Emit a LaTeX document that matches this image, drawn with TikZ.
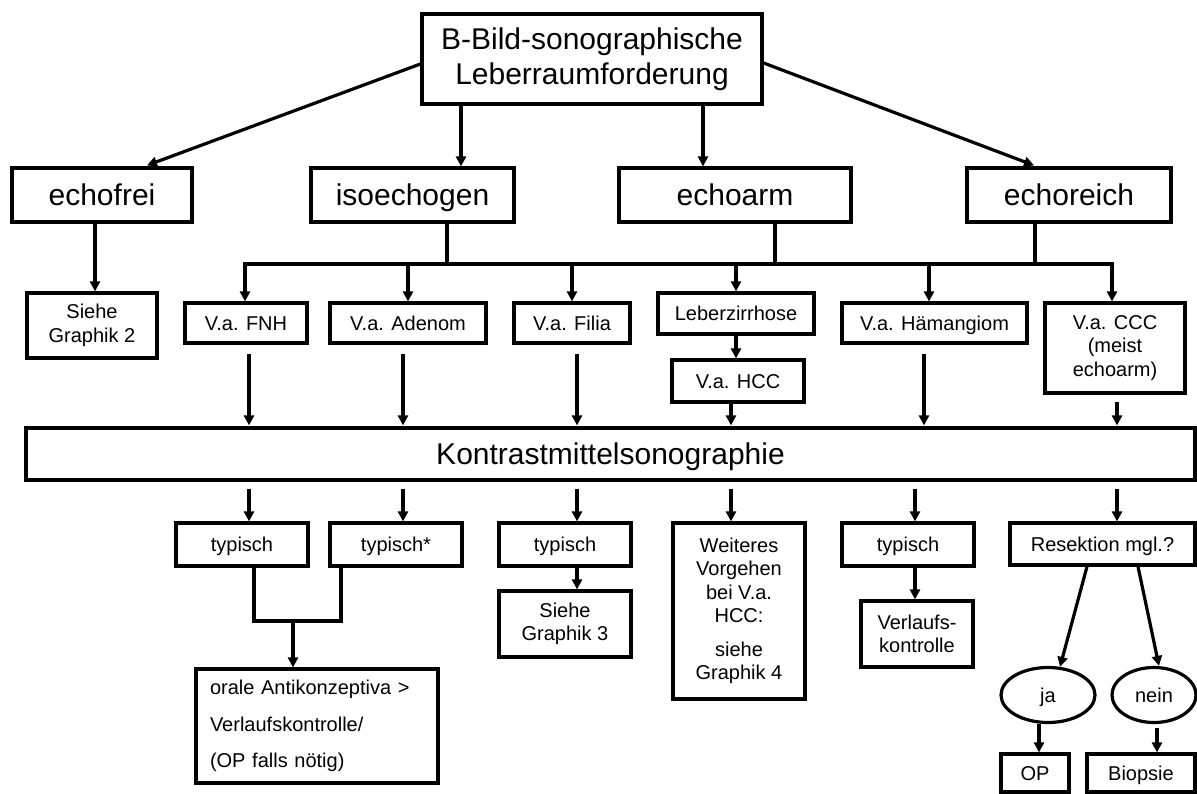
\documentclass[tikz,border=0pt]{standalone}
\usepackage{fontspec}
\setmainfont{Liberation Sans}
\usetikzlibrary{arrows.meta,calc,shapes.geometric}
\begin{document}
\begin{tikzpicture}[x=1pt,y=-1pt,
  bx/.style={draw, line width=3.2pt, inner sep=0pt, align=center, font=\fontsize{20}{23.5}\selectfont},
  big/.style={font=\fontsize{30}{35}\selectfont},
  sl/.style={text height=14.3pt, text depth=0pt},
  bl/.style={text height=21.5pt, text depth=0pt},
  wh/.style 2 args={minimum width=#1pt, minimum height=#2pt},
  ln/.style={line width=3.2pt, line cap=rect},
  arr/.style={line width=3.2pt, -{Triangle[length=10pt,width=10pt]}},
  el/.style={draw, ellipse, line width=3.2pt, inner sep=0pt, font=\fontsize{20}{23.5}\selectfont}
]
\useasboundingbox (0,0) rectangle (1197,794);

% top
\node[bx,big,wh={340}{90}] (top) at (592,59) {B-Bild-sonographische\\Leberraumforderung};

% row 1
\node[bx,big,bl,wh={180}{54}] (efrei) at (102,195) {echofrei};
\node[bx,big,bl,wh={203}{54}] (iso) at (412.5,195) {isoechogen};
\node[bx,big,bl,wh={232}{54}] (earm) at (735,195) {echoarm};
\node[bx,big,bl,wh={204}{54}] (ereich) at (1069,195) {echoreich};

\draw[arr] ($(top.west)+(0,5)$) -- ($(efrei.north)+(45,-1)$);
\draw[arr] ($(top.south)+(-131,0)$) -- ($(iso.north)+(48.5,0)$);
\draw[arr] ($(top.south)+(111,0)$) -- ($(earm.north)+(-32,0)$);
\draw[arr] ($(top.east)+(0,4)$) -- ($(ereich.north)+(-35,-1)$);

% row 2
\node[bx,wh={130}{65}] (s2) at (92,325.5) {Siehe\\Graphik 2};
\draw[arr] ($(efrei.south)+(-7,0)$) -- ($(s2.north)+(3,0)$);

\node[bx,sl,wh={122}{40}] (fnh) at (246,323) {V.a. FNH};
\node[bx,sl,wh={156}{40}] (aden) at (408,323) {V.a. Adenom};
\node[bx,sl,wh={116}{40}] (filia) at (572,323) {V.a. Filia};
\node[bx,sl,wh={156}{41}] (leber) at (736,313.5) {Leberzirrhose};
\node[bx,sl,wh={132}{42}] (hcc) at (738,381) {V.a. HCC};
\node[bx,sl,wh={185}{40}] (haem) at (934.5,323) {V.a. Hämangiom};
\node[bx,wh={140}{90}] (ccc) at (1115,348) {V.a. CCC\\(meist\\echoarm)};

% bus
\coordinate (busL) at (245,264);
\coordinate (busR) at (1112,264);
\coordinate (bI) at (447,264);
\coordinate (bA) at (775,264);
\coordinate (bR) at (1035,264);
\coordinate (hA) at (929,264);
\draw[ln] (iso.south -| bI) -- (bI);
\draw[ln] (earm.south -| bA) -- (bA);
\draw[ln] (ereich.south -| bR) -- (bR);
\draw[arr] (bI) -- (busL) -- (busL |- fnh.north);
\draw[arr] (bI) -- (busR) -- (busR |- ccc.north);
\draw[arr] (aden.north |- busL) -- (aden.north);
\draw[arr] (filia.north |- busL) -- (filia.north);
\draw[arr] (leber.north |- busL) -- (leber.north);
\draw[arr] (hA) -- (hA |- haem.north);
\draw[arr] (leber.south) -- (leber.south |- hcc.north);

% Kontrast
\node[bx,big,bl,wh={1169}{52}] (km) at (610.5,454) {Kontrastmittelsonographie};
\draw[arr] ($(fnh.south)+(3,9)$) -- ($(km.north)+(-361.5,-1)$);
\draw[arr] ($(aden.south)+(-5,9)$) -- ($(km.north)+(-207.5,-1)$);
\draw[arr] ($(filia.south)+(5,9)$) -- ($(km.north)+(-33.5,-1)$);
\draw[arr] ($(hcc.south)+(-7,0)$) -- ($(km.north)+(120.5,-1)$);
\draw[arr] ($(haem.south)+(-10.5,9)$) -- ($(km.north)+(313.5,-1)$);
\draw[arr] ($(ccc.south)+(2,7)$) -- ($(km.north)+(506.5,-1)$);

% row 3
\node[bx,sl,wh={132}{43}] (t1) at (242,544.5) {typisch};
\node[bx,sl,wh={132}{43}] (t2) at (396,544.5) {typisch*};
\node[bx,sl,wh={132}{43}] (t3) at (565,544.5) {typisch};
\node[bx,wh={132}{66}] (s3) at (565,624) {Siehe\\Graphik 3};
\node[bx,wh={132}{176}] (weit) at (739,611) {Weiteres\\Vorgehen\\bei V.a.\\HCC:\\[10pt]siehe\\Graphik 4};
\node[bx,sl,wh={132}{43}] (t4) at (908,544.5) {typisch};
\node[bx,wh={112}{66}] (verl) at (917,634) {Verlaufs-\\kontrolle};
\node[bx,sl,wh={185}{42}] (res) at (1102.5,544) {Resektion mgl.?};
\node[el,sl,wh={94}{55}] (ja) at (1048,695) {ja};
\node[el,sl,wh={84}{55}] (nein) at (1154,695) {nein};
\node[bx,sl,wh={68}{38}] (op) at (1035,773) {OP};
\node[bx,sl,wh={108}{38}] (bio) at (1141,773) {Biopsie};
\node[bx,wh={242}{114},align=left,text width=214pt,font=\fontsize{20}{36.5}\selectfont] (orale) at (317,726) {orale Antikonzeptiva >\\Verlaufskontrolle/\\(OP falls nötig)};

\draw[arr] ($(km.south)+(-361.5,7)$) -- ($(t1.north)+(7,0)$);
\draw[arr] ($(km.south)+(-207.5,7)$) -- ($(t2.north)+(7,0)$);
\draw[arr] ($(km.south)+(-33.5,7)$) -- ($(t3.north)+(12,0)$);
\draw[arr] ($(km.south)+(120.5,7)$) -- ($(weit.north)+(-8,0)$);
\draw[arr] ($(km.south)+(304.5,7)$) -- ($(t4.north)+(7,0)$);
\draw[arr] ($(km.south)+(506.5,7)$) -- ($(res.north)+(14.5,0)$);

\draw[arr] ($(t3.south)+(12,0)$) -- ($(s3.north)+(12,0)$);
\draw[arr] ($(t4.south)+(7,0)$) -- ($(verl.north)+(-2,0)$);

\coordinate (jL) at (254,621);
\coordinate (jR) at (341,621);
\coordinate (jM) at (293,621);
\draw[ln] (t1.south -| jL) -- (jL) -- (jR) -- (t2.south -| jR);
\draw[arr] (jM) -- (jM |- orale.north);

\draw[arr] ($(res.south)+(-15.5,0)$) -- ($(ja.north)+(12,1)$);
\draw[arr] ($(res.south)+(35.5,0)$) -- ($(nein.north)+(5,0)$);
\draw[arr] ($(ja.south)+(-9,0)$) -- ($(op.north)+(4,0)$);
\draw[arr] ($(nein.south)+(3,4)$) -- ($(bio.north)+(16,0)$);
\end{tikzpicture}
\end{document}
